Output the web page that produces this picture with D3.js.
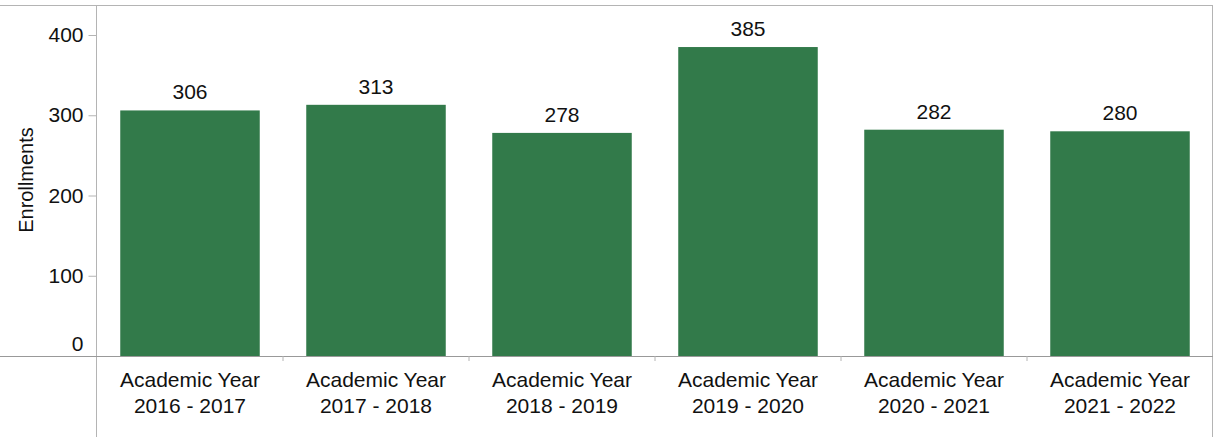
<!DOCTYPE html>
<html>
<head>
<meta charset="utf-8">
<script src="https://cdn.jsdelivr.net/npm/d3@7"></script>
<style>
  body { margin: 0; background: #fff; }
  svg { display: block; font-family: "Liberation Sans", Arial, sans-serif; }
</style>
</head>
<body>
<div id="chart"></div>
<script>
// data
const years = ["2016 - 2017", "2017 - 2018", "2018 - 2019", "2019 - 2020", "2020 - 2021", "2021 - 2022"];
const enrollments = [306, 313, 278, 385, 282, 280];
const yTicks = [0, 100, 200, 300, 400];

const w = 1215, h = 437;
const margin = {top: 5, right: 2, bottom: 81, left: 97};
const fontSize = 21;

const data = years.map((y, i) => ({year: y, value: enrollments[i]}));

const svg = d3.select("#chart").append("svg")
  .attr("width", w)
  .attr("height", h);

/** scales */
const x = d3.scaleBand()
  .domain(years)
  .range([margin.left, w - margin.right])
  .paddingInner(0.25)
  .paddingOuter(0.125);

const y = d3.scaleLinear()
  .domain([0, 400])
  .range([h - margin.bottom, 35]);

/** frame lines */
const lineColor = "#b4b4b4";
svg.append("line")
  .attr("x1", 0).attr("x2", w - margin.right)
  .attr("y1", margin.top + 0.5).attr("y2", margin.top + 0.5)
  .attr("stroke", lineColor);
svg.append("line")
  .attr("x1", w - margin.right - 0.5).attr("x2", w - margin.right - 0.5)
  .attr("y1", margin.top).attr("y2", h)
  .attr("stroke", lineColor);

/** bars */
svg.append("g")
  .selectAll("rect")
  .data(data)
  .join("rect")
  .attr("x", d => x(d.year))
  .attr("y", d => y(d.value))
  .attr("width", x.bandwidth())
  .attr("height", d => y(0) - y(d.value))
  .attr("fill", "#327a4a");

/** value labels */
svg.append("g")
  .selectAll("text")
  .data(data)
  .join("text")
  .attr("x", d => x(d.year) + x.bandwidth() / 2)
  .attr("y", d => y(d.value) - 11)
  .attr("text-anchor", "middle")
  .attr("font-size", fontSize)
  .attr("fill", "#111")
  .text(d => d.value);

/** y axis */
const yAxis = svg.append("g")
  .attr("transform", "translate(" + (margin.left - 0.5) + ",0)")
  .call(d3.axisLeft(y).tickValues(yTicks).tickSize(8).tickPadding(5));
yAxis.select(".domain").remove();
yAxis.selectAll(".tick line").attr("stroke", lineColor);
yAxis.selectAll(".tick text")
  .attr("font-size", fontSize)
  .attr("font-family", "Liberation Sans, Arial, sans-serif")
  .attr("fill", "#111")
  .attr("dy", d => d === 0 ? "-0.25em" : "0.32em");
svg.append("line")
  .attr("x1", margin.left - 0.5).attr("x2", margin.left - 0.5)
  .attr("y1", margin.top).attr("y2", h)
  .attr("stroke", lineColor);

/** x axis */
svg.append("line")
  .attr("x1", 0).attr("x2", w - margin.right)
  .attr("y1", y(0) + 0.5).attr("y2", y(0) + 0.5)
  .attr("stroke", "#999");

// small ticks at the category boundaries
const step = x.step();
svg.append("g")
  .selectAll("line")
  .data(years.slice(1))
  .join("line")
  .attr("x1", d => x(d) - (step - x.bandwidth()) / 2)
  .attr("x2", d => x(d) - (step - x.bandwidth()) / 2)
  .attr("y1", y(0)).attr("y2", y(0) + 5)
  .attr("stroke", lineColor);

const xLabels = svg.append("g")
  .selectAll("text")
  .data(data)
  .join("text")
  .attr("x", d => x(d.year) + x.bandwidth() / 2)
  .attr("y", y(0) + 31)
  .attr("text-anchor", "middle")
  .attr("font-size", fontSize)
  .attr("fill", "#111");
xLabels.append("tspan")
  .attr("x", d => x(d.year) + x.bandwidth() / 2)
  .text("Academic Year");
xLabels.append("tspan")
  .attr("x", d => x(d.year) + x.bandwidth() / 2)
  .attr("dy", 26)
  .text(d => d.year);

/** y axis title */
svg.append("text")
  .attr("transform", "translate(33,180) rotate(-90)")
  .attr("text-anchor", "middle")
  .attr("font-size", 20)
  .attr("fill", "#111")
  .text("Enrollments");
</script>
</body>
</html>
